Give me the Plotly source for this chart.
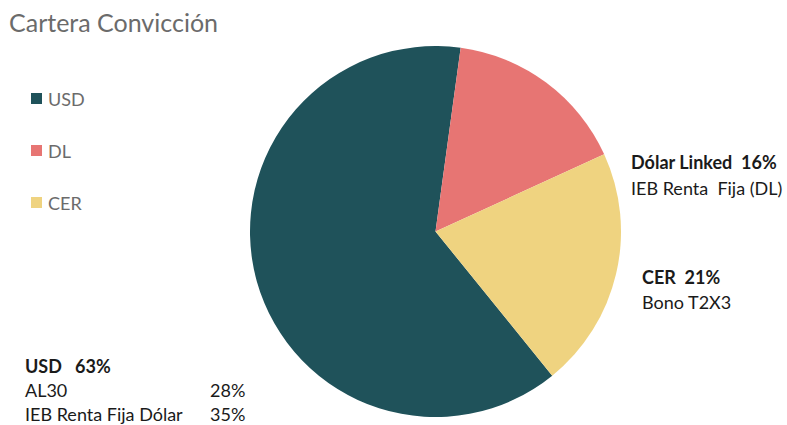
import plotly.graph_objects as go

categories = ["USD", "DL", "CER"]
values = [63, 16, 21]
colors = ["#1F525A", "#E77573", "#EFD380"]
title_text = "Cartera Convicción"
usd_items = ["AL30", "IEB Renta Fija Dólar"]
usd_item_values = [28, 35]
dl_item = "IEB Renta&nbsp; Fija (DL)"
cer_item = "Bono T2X3"

W, H = 787, 425
fig = go.Figure()
fig.add_trace(go.Pie(
    labels=categories, values=values, sort=False, direction="clockwise",
    rotation=141, marker=dict(colors=colors, line=dict(width=0)),
    textinfo="none", showlegend=False, hoverinfo="label+percent",
    domain=dict(x=[250/W, 621/W], y=[(H-418)/H, (H-45)/H]),
))

def px(x):
    return x / W
def py(y):
    return 1 - y / H

ann = []
shapes = []
ann.append(dict(x=px(7), y=py(22), text=title_text, showarrow=False, xanchor="left", yanchor="middle",
                font=dict(family="Lato", size=25, color="#6b6b6b")))
leg_y = [99, 151, 203]
for cat, col, yy in zip(categories, colors, leg_y):
    shapes.append(dict(type="rect", xref="paper", yref="paper", x0=px(31), x1=px(42), y0=py(yy+5), y1=py(yy-6),
                       fillcolor=col, line=dict(width=0)))
    ann.append(dict(x=px(46), y=py(yy), text=cat, showarrow=False, xanchor="left", yanchor="middle",
                    font=dict(family="Lato", size=18, color="#6b6b6b")))

tf = dict(family="Lato", size=18, color="#1a1a1a")
pct = dict(zip(categories, values))
ann.append(dict(x=px(629), y=py(162), text=f"<b>Dólar Linked&nbsp; {pct['DL']}%</b>", showarrow=False,
                xanchor="left", yanchor="middle", font=tf))
ann.append(dict(x=px(629), y=py(188), text=dl_item, showarrow=False, xanchor="left", yanchor="middle", font=tf))
ann.append(dict(x=px(640), y=py(277), text=f"<b>CER&nbsp; {pct['CER']}%</b>", showarrow=False,
                xanchor="left", yanchor="middle", font=tf))
ann.append(dict(x=px(640), y=py(302), text=cer_item, showarrow=False, xanchor="left", yanchor="middle", font=tf))
ann.append(dict(x=px(23), y=py(366), text=f"<b>USD&nbsp;&nbsp; {pct['USD']}%</b>", showarrow=False,
                xanchor="left", yanchor="middle", font=tf))
for name, v, yy in zip(usd_items, usd_item_values, [390, 414]):
    ann.append(dict(x=px(23), y=py(yy), text=name, showarrow=False, xanchor="left", yanchor="middle", font=tf))
    ann.append(dict(x=px(247), y=py(yy), text=f"{v}%", showarrow=False, xanchor="right", yanchor="middle", font=tf))

fig.update_layout(width=W, height=H, margin=dict(l=0, r=0, t=0, b=0),
                  paper_bgcolor="white", plot_bgcolor="white",
                  annotations=ann, shapes=shapes)
fig.write_html("out.html", config={"displayModeBar": False},
               post_script="document.body.style.margin='0';document.body.style.overflow='hidden';")
